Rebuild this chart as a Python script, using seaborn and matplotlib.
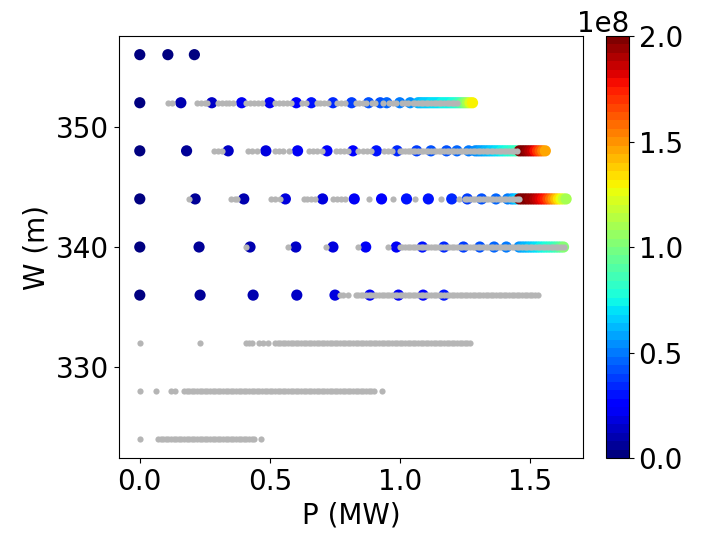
import numpy as np
import pandas as pd
import matplotlib
matplotlib.use("Agg")
import matplotlib.pyplot as plt
import seaborn as sns

# ---------------- data ----------------
# coloured points: P (MW) and value (in units of 1e8) per W row
p356 = [0.0, 0.108, 0.21]
v356 = [0.01, 0.02, 0.03]

p352 = [0.0, 0.158, 0.277, 0.392, 0.50, 0.602, 0.66, 0.743, 0.815, 0.88, 0.925, 0.95, 1.0, 1.04,
        1.07, 1.08, 1.09, 1.10, 1.11, 1.12, 1.13, 1.14, 1.15, 1.16, 1.17, 1.18, 1.19, 1.20, 1.21,
        1.22, 1.23, 1.24, 1.25, 1.26, 1.27, 1.28]
v352 = [0.01, 0.08, 0.14, 0.20, 0.23, 0.26, 0.28, 0.33, 0.37, 0.40, 0.43, 0.45, 0.48, 0.52,
        0.60, 0.62, 0.64, 0.66, 0.67, 0.68, 0.69, 0.70, 0.71, 0.72, 0.73, 0.74, 0.75, 0.76, 0.78,
        0.82, 0.87, 0.94, 1.02, 1.11, 1.20, 1.30]

p348 = [0.0, 0.18, 0.34, 0.485, 0.607, 0.72, 0.82, 0.91, 0.99, 1.065, 1.12, 1.18, 1.22, 1.265,
        1.29, 1.30, 1.31, 1.32, 1.33, 1.34, 1.35, 1.36, 1.37, 1.38, 1.39, 1.40, 1.41, 1.42, 1.43,
        1.44, 1.45,
        1.46, 1.47, 1.48, 1.49, 1.50, 1.51, 1.52, 1.53, 1.54, 1.55, 1.56]
v348 = [0.01, 0.07, 0.13, 0.18, 0.21, 0.24, 0.27, 0.30, 0.33, 0.37, 0.40, 0.43, 0.46, 0.50,
        0.52, 0.54, 0.56, 0.58, 0.60, 0.62, 0.64, 0.66, 0.68, 0.70, 0.72, 0.74, 0.76, 0.78, 0.80,
        0.82, 0.84,
        2.00, 1.99, 1.97, 1.94, 1.90, 1.84, 1.77, 1.70, 1.62, 1.54, 1.46]

p344 = [0.0, 0.213, 0.40, 0.56, 0.703, 0.825, 0.93, 1.026, 1.11, 1.20, 1.26, 1.315, 1.37, 1.415,
        1.43, 1.44, 1.45,
        1.46, 1.47, 1.48, 1.49, 1.50, 1.51, 1.52, 1.53, 1.54, 1.55, 1.56, 1.57, 1.58, 1.59, 1.60,
        1.61, 1.62, 1.63, 1.64]
v344 = [0.01, 0.06, 0.11, 0.16, 0.19, 0.22, 0.25, 0.28, 0.30, 0.33, 0.36, 0.40, 0.44, 0.48,
        0.55, 0.60, 0.65,
        2.00, 1.99, 1.98, 1.97, 1.95, 1.93, 1.90, 1.86, 1.82, 1.77, 1.72, 1.65, 1.58, 1.50, 1.42,
        1.34, 1.26, 1.18, 1.10]

p340 = [0.0, 0.228, 0.424, 0.60, 0.743, 0.869, 0.987, 1.087, 1.17, 1.245, 1.308, 1.363, 1.41, 1.459,
        1.47, 1.48, 1.49, 1.50, 1.51, 1.52, 1.53, 1.54, 1.55, 1.56, 1.57, 1.58, 1.59, 1.60, 1.61,
        1.62, 1.63]
v340 = [0.01, 0.06, 0.10, 0.14, 0.18, 0.21, 0.23, 0.28, 0.32, 0.36, 0.40, 0.44, 0.50, 0.55,
        0.58, 0.60, 0.62, 0.64, 0.66, 0.68, 0.70, 0.72, 0.74, 0.76, 0.78, 0.80, 0.82, 0.85, 0.89,
        0.94, 1.00]

p336 = [0.0, 0.232, 0.436, 0.604, 0.751, 0.885, 0.995, 1.09, 1.17]
v336 = [0.01, 0.06, 0.10, 0.13, 0.17, 0.20, 0.22, 0.25, 0.28]

# grey points: P (MW) per W row
g352 = [0.11, 0.125, 0.22, 0.235, 0.25, 0.26, 0.30, 0.315, 0.33, 0.345, 0.36, 0.41, 0.425, 0.44,
        0.455, 0.47, 0.52, 0.535, 0.55, 0.565, 0.58, 0.625, 0.64, 0.68, 0.695, 0.71, 0.725, 0.76,
        0.775, 0.79, 0.83, 0.845, 0.86, 0.87, 0.895, 0.905, 0.935, 0.96, 0.975, 0.985, 1.01, 1.02,
        1.03, 1.05, 1.06, 1.07, 1.08, 1.09, 1.10, 1.11, 1.12, 1.13, 1.14, 1.15, 1.16, 1.17, 1.18,
        1.19, 1.20, 1.21, 1.22]
g348 = [0.285, 0.30, 0.315, 0.415, 0.43, 0.45, 0.52, 0.535, 0.55, 0.575, 0.65, 0.665, 0.68, 0.70,
        0.755, 0.77, 0.785, 0.80, 0.84, 0.86, 0.875, 0.89, 0.94, 0.955, 0.97,
        1.00, 1.01, 1.02, 1.03, 1.04, 1.05, 1.06, 1.07, 1.08, 1.09, 1.10, 1.11, 1.12, 1.13, 1.14,
        1.15, 1.16, 1.17, 1.18, 1.19, 1.20, 1.21, 1.22, 1.23, 1.24, 1.25, 1.26, 1.27, 1.28, 1.29,
        1.30, 1.31, 1.32, 1.33, 1.34, 1.35, 1.36, 1.37, 1.38, 1.39, 1.40, 1.41, 1.42, 1.43, 1.44,
        1.45]
g344 = [0.19, 0.35, 0.365, 0.375, 0.505, 0.52, 0.54, 0.63, 0.645, 0.66, 0.675, 0.745, 0.76, 0.775,
        0.79, 0.88, 0.975, 1.06, 1.16, 1.227,
        1.25, 1.26, 1.27, 1.28, 1.29, 1.30, 1.31, 1.32, 1.33, 1.34, 1.35, 1.36, 1.37, 1.38, 1.39,
        1.40, 1.41, 1.42, 1.43, 1.44, 1.45, 1.46]
g340 = [0.41, 0.57, 0.715, 0.84, 0.955,
        1.00, 1.01, 1.02, 1.03, 1.04, 1.05, 1.06, 1.07, 1.08, 1.09, 1.10, 1.11, 1.12, 1.13, 1.14,
        1.15, 1.16, 1.17, 1.18, 1.19, 1.20, 1.21, 1.22, 1.23, 1.24, 1.25, 1.26, 1.27, 1.28, 1.29,
        1.30, 1.31, 1.32, 1.33, 1.34, 1.35, 1.36, 1.37, 1.38, 1.39, 1.40, 1.41, 1.42, 1.43, 1.44,
        1.45, 1.46, 1.47, 1.48, 1.49, 1.50, 1.51, 1.52, 1.53, 1.54, 1.55, 1.56, 1.57, 1.58, 1.59,
        1.60, 1.61, 1.62, 1.63]
g336 = [0.77, 0.78, 0.80,
        0.83, 0.84, 0.85, 0.86, 0.87, 0.88, 0.89, 0.90, 0.91, 0.92, 0.93, 0.94, 0.95, 0.96, 0.97,
        0.98, 0.99, 1.00, 1.01, 1.02, 1.03, 1.04, 1.05, 1.06, 1.07, 1.08, 1.09, 1.10, 1.11, 1.12,
        1.13, 1.14, 1.15, 1.16, 1.17, 1.18, 1.19, 1.20, 1.21, 1.22, 1.23, 1.24, 1.25, 1.26, 1.27,
        1.28, 1.29, 1.30, 1.31, 1.32, 1.33, 1.34, 1.35, 1.36, 1.37, 1.38, 1.39, 1.40, 1.41, 1.42,
        1.43, 1.44, 1.45, 1.46, 1.47, 1.48, 1.49, 1.50, 1.51, 1.52, 1.53]
g332 = [0.0, 0.23, 0.41, 0.42, 0.43, 0.46, 0.475, 0.495,
        0.52, 0.53, 0.54, 0.55, 0.56, 0.57, 0.58, 0.59, 0.60, 0.61, 0.62, 0.63, 0.64, 0.65, 0.66,
        0.67, 0.68, 0.69, 0.70, 0.71, 0.72, 0.73, 0.74, 0.75, 0.76, 0.77, 0.78, 0.79, 0.80, 0.81,
        0.82, 0.83, 0.84, 0.85, 0.86, 0.87, 0.88, 0.89, 0.90, 0.91, 0.92, 0.93, 0.94, 0.95, 0.96,
        0.97, 0.98, 0.99, 1.00, 1.01, 1.02, 1.03, 1.04, 1.05, 1.06, 1.07, 1.08, 1.09, 1.10, 1.11,
        1.12, 1.13, 1.14, 1.15, 1.16, 1.17, 1.18, 1.19, 1.20, 1.21, 1.22, 1.23, 1.24, 1.25, 1.26,
        1.27]
g328 = [0.0, 0.064, 0.12, 0.135,
        0.17, 0.18, 0.19, 0.20, 0.21, 0.22, 0.23, 0.24, 0.25, 0.26, 0.27, 0.28, 0.29, 0.30, 0.31,
        0.32, 0.33, 0.34, 0.35, 0.36, 0.37, 0.38, 0.39, 0.40, 0.41, 0.42, 0.43, 0.44, 0.45, 0.46,
        0.47, 0.48, 0.49, 0.50, 0.51, 0.52, 0.53, 0.54, 0.55, 0.56, 0.57, 0.58, 0.59, 0.60, 0.61,
        0.62, 0.63, 0.64, 0.65, 0.66, 0.67, 0.68, 0.69, 0.70, 0.71, 0.72, 0.73, 0.74, 0.75, 0.76,
        0.77, 0.78, 0.79, 0.80, 0.81, 0.82, 0.83, 0.84, 0.85, 0.86, 0.87, 0.88, 0.89, 0.90, 0.93]
g324 = [0.0,
        0.07, 0.08, 0.09, 0.10, 0.11, 0.12, 0.13, 0.14, 0.15, 0.16, 0.17, 0.18, 0.19, 0.20, 0.21,
        0.22, 0.23, 0.24, 0.25, 0.26, 0.27, 0.28, 0.29, 0.30, 0.31, 0.32, 0.33, 0.34, 0.35, 0.36,
        0.37, 0.38, 0.39, 0.40, 0.41, 0.42, 0.43, 0.44, 0.468]

colour_rows = {356: (p356, v356), 352: (p352, v352), 348: (p348, v348),
               344: (p344, v344), 340: (p340, v340), 336: (p336, v336)}
grey_rows = {352: g352, 348: g348, 344: g344, 340: g340, 336: g336,
             332: g332, 328: g328, 324: g324}

# ---------------- build tables ----------------
col_df = pd.concat([pd.DataFrame({"P": p, "W": w, "val": np.array(v) * 1e8})
                    for w, (p, v) in colour_rows.items()], ignore_index=True)
grey_df = pd.concat([pd.DataFrame({"P": g, "W": w}) for w, g in grey_rows.items()],
                    ignore_index=True)

# ---------------- plot ----------------
cmap = plt.get_cmap("jet", 50)
norm = matplotlib.colors.Normalize(vmin=0, vmax=2e8)

fig = plt.figure(figsize=(7.02, 5.33), dpi=100)
ax = fig.add_axes([0.1695, 0.1407, 0.661, 0.7917])
cax = fig.add_axes([0.863, 0.1407, 0.0328, 0.7917])

sns.scatterplot(data=col_df, x="P", y="W", hue="val", palette=cmap, hue_norm=norm,
                s=65, linewidth=0, legend=False, ax=ax, zorder=2)
sns.scatterplot(data=grey_df, x="P", y="W", color="#b5b5b5", s=20, linewidth=0,
                legend=False, ax=ax, zorder=3)

ax.set_xlim(-0.08, 1.705)
ax.set_ylim(322.45, 357.55)
ax.set_xticks([0.0, 0.5, 1.0, 1.5])
ax.set_yticks([330, 340, 350])
ax.set_xlabel("P (MW)", fontsize=20)
ax.set_ylabel("W (m)", fontsize=20)
ax.tick_params(labelsize=20)

sm = matplotlib.cm.ScalarMappable(norm=norm, cmap=cmap)
sm.set_array([])
cb = fig.colorbar(sm, cax=cax)
cb.set_ticks([0, 0.5e8, 1.0e8, 1.5e8, 2.0e8])
cb.ax.tick_params(labelsize=20)
cb.ax.yaxis.get_offset_text().set_fontsize(20)

fig.savefig("out.png", dpi=100)
